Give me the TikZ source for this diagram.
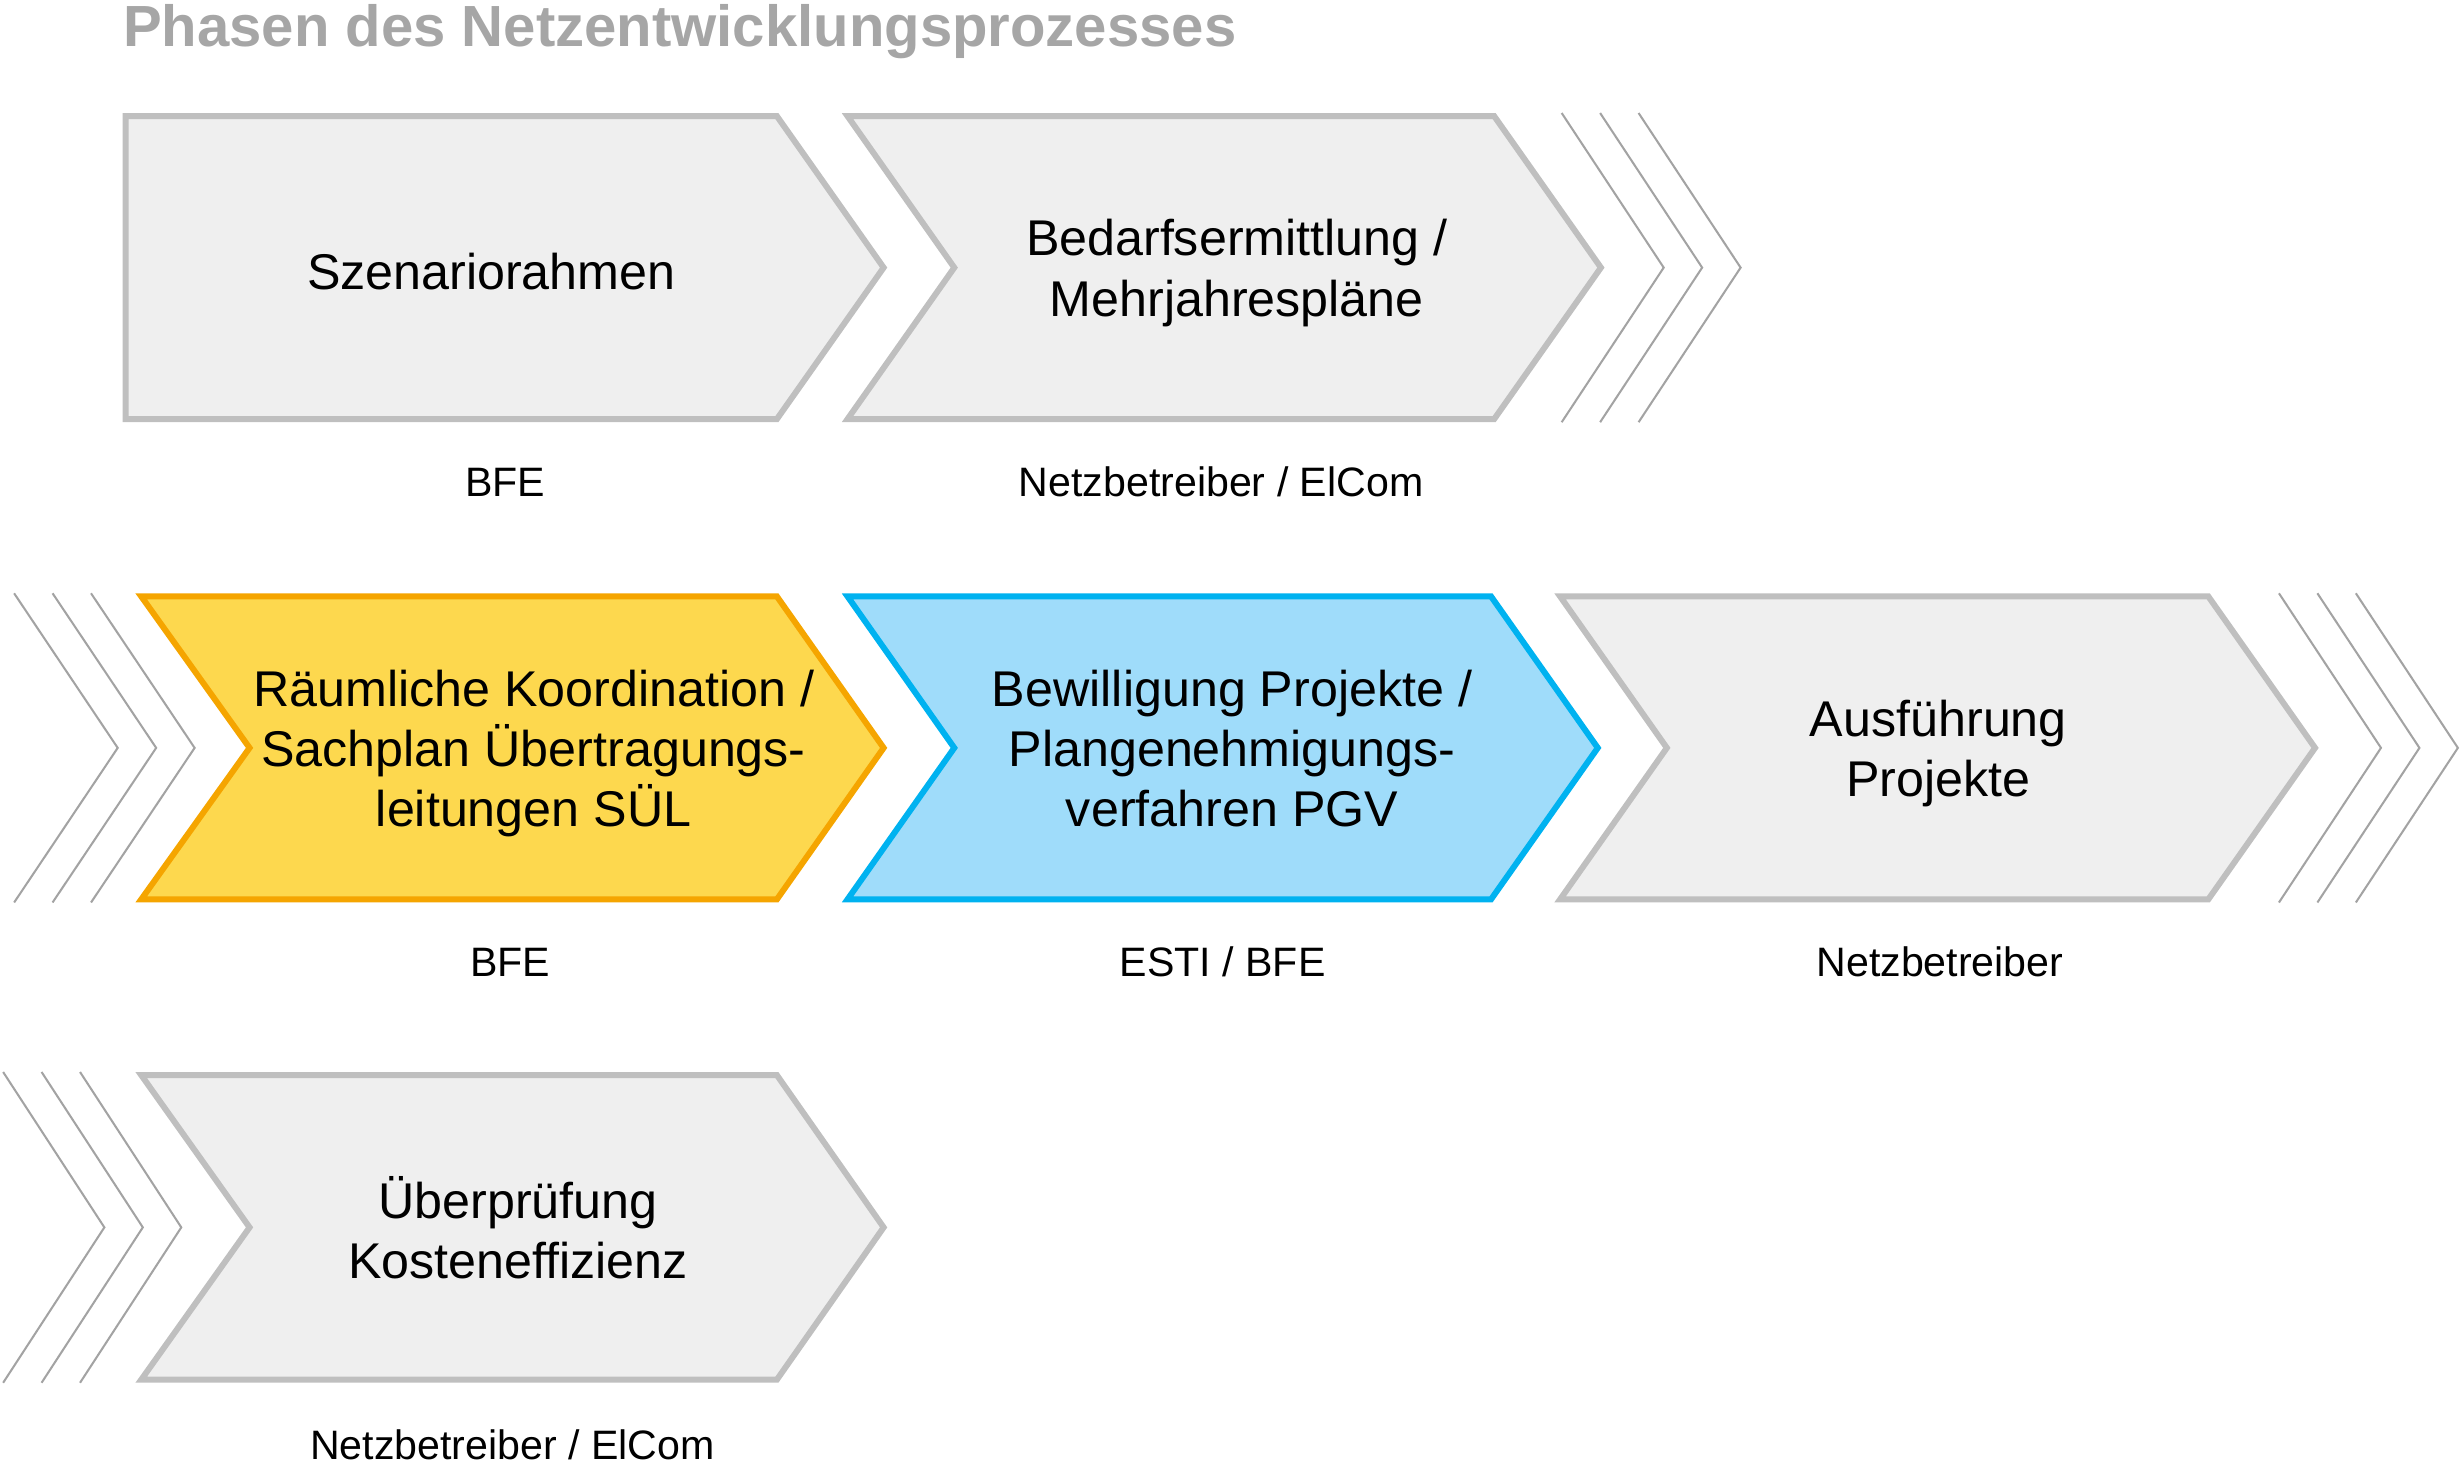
\documentclass[tikz,border=0pt]{standalone}
\usepackage{fontspec}
\setmainfont{Liberation Sans}
\definecolor{titlegray}{HTML}{A6A6A6}
\definecolor{grayfill}{HTML}{EFEFEF}
\definecolor{grayline}{HTML}{BFBFBF}
\definecolor{markgray}{HTML}{A3A3A3}
\definecolor{yellowfill}{HTML}{FDD84E}
\definecolor{yellowline}{HTML}{F5A500}
\definecolor{bluefill}{HTML}{9FDCFA}
\definecolor{blueline}{HTML}{00B2F0}
\begin{document}
\begin{tikzpicture}[x=0.5pt,y=-0.5pt]
	\tikzstyle{phase}=[draw=grayline, fill=grayfill, line width=1.9pt, line join=miter]
	\tikzstyle{marks}=[draw=markgray, line width=0.65pt]
	\tikzstyle{txt}=[font=\fontsize{16}{19.25}\selectfont, align=center, inner sep=0pt, yshift=-3pt,
		execute at begin node=\strut, execute at end node=\strut]
	\tikzstyle{who}=[font=\fontsize{13.1}{15.7}\selectfont, anchor=base, inner sep=0pt]
	\useasboundingbox (0,0) rectangle (1568,933);
	% Title
	\node[anchor=base west, inner sep=0pt, text=titlegray, font=\bfseries\fontsize{18.5}{22}\selectfont] (title) at (78,29.7) {Phasen des Netzentwicklungsprozesses};
	%---------------------%
	% Row 1
	\draw[phase] (80,74) -- (495,74) -- (563,170.5) -- (495,267) -- (80,267) -- cycle;
	\draw[phase] (540,74) -- (952,74) -- (1020,170.5) -- (952,267) -- (540,267) -- (608,170.5) -- cycle;
	\foreach \d in {0,24.5,49}
		\draw[marks] (995+\d,72) -- (1060+\d,170.5) -- (995+\d,269);
	\node[txt] (szenario) at (313,170.5) {Szenariorahmen};
	\node[txt] (bedarf) at (788,170.5) {Bedarfsermittlung /\\Mehrjahrespläne};
	\node[who] (who_1) at (322,316.5) {BFE};
	\node[who] (who_2) at (778,316.5) {Netzbetreiber / ElCom};
	%---------------------%
	% Row 2
	\foreach \d in {0,24.5,49}
		\draw[marks] (9+\d,378) -- (75+\d,476.5) -- (9+\d,575);
	\draw[phase, draw=yellowline, fill=yellowfill] (90,380) -- (495,380) -- (563,476.5) -- (495,573) -- (90,573) -- (159,476.5) -- cycle;
	\draw[phase, draw=blueline, fill=bluefill] (540,380) -- (950,380) -- (1018,476.5) -- (950,573) -- (540,573) -- (608,476.5) -- cycle;
	\draw[phase] (994,380) -- (1407,380) -- (1475,476.5) -- (1407,573) -- (994,573) -- (1062,476.5) -- cycle;
	\foreach \d in {0,24.5,49}
		\draw[marks] (1452+\d,378) -- (1517+\d,476.5) -- (1452+\d,575);
	\node[txt] (sachplan) at (340,476.5) {Räumliche Koordination /\\Sachplan Übertragungs-\\leitungen SÜL};
	\node[txt] (bewilligung) at (785,476.5) {Bewilligung Projekte /\\Plangenehmigungs-\\verfahren PGV};
	\node[txt] (ausfuehrung) at (1235,476.5) {Ausführung\\Projekte};
	\node[who] (who_3) at (325,622) {BFE};
	\node[who] (who_4) at (779,622) {ESTI / BFE};
	\node[who] (who_5) at (1236,622) {Netzbetreiber};
	%---------------------%
	% Row 3
	\foreach \d in {0,24.5,49}
		\draw[marks] (2+\d,683) -- (66.5+\d,782) -- (2+\d,881);
	\draw[phase] (90,685) -- (495,685) -- (563,782) -- (495,879) -- (90,879) -- (159,782) -- cycle;
	\node[txt] (pruefung) at (330,782) {Überprüfung\\Kosteneffizienz};
	\node[who] (who_6) at (326.5,929.6) {Netzbetreiber / ElCom};
\end{tikzpicture}
\end{document}
